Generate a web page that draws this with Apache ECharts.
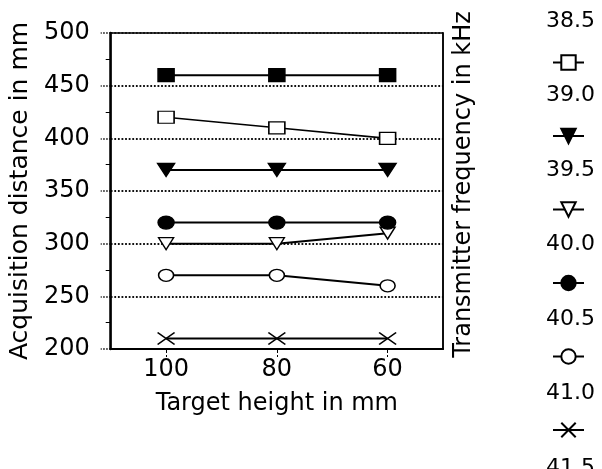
<!DOCTYPE html>
<html>
<head>
<meta charset="utf-8">
<script src="https://cdn.jsdelivr.net/npm/echarts@6/dist/echarts.min.js"></script>
<style>
  html, body { margin: 0; padding: 0; background: #fff; }
  #chart { width: 602px; height: 469px; }
</style>
</head>
<body>
<div id="chart"></div>
<script>
// Target heights (mm) along the x axis
const targetHeights = ['100', '80', '60'];

// Transmitter frequencies (kHz), one series each
const frequencies = ['38.5', '39.0', '39.5', '40.0', '40.5', '41.0', '41.5'];

// Acquisition distance (mm) per frequency, for target heights 100 / 80 / 60
const dist385 = [460, 460, 460];
const dist390 = [420, 410, 400];
const dist395 = [370, 370, 370];
const dist400 = [300, 300, 310];
const dist405 = [320, 320, 320];
const dist410 = [270, 270, 260];
const dist415 = [210, 210, 210];

const yTicks = [200, 250, 300, 350, 400, 450, 500];

const FONT = 'DejaVu Sans';
const DOWN_TRI = 'path://M0,0L12,0L6,10Z';
const CROSS = 'path://M0,0L16,11M16,0L0,11';

function makeSeries(name, data, symbol, size, filled) {
  return {
    name: name,
    type: 'line',
    data: data,
    symbol: symbol,
    symbolSize: size,
    showSymbol: true,
    lineStyle: { color: '#000', width: 2 },
    itemStyle: {
      color: filled ? '#000' : '#fff',
      borderColor: '#000',
      borderWidth: 1.4
    },
    emphasis: { disabled: true },
    z: 3
  };
}

const series = [
  makeSeries(frequencies[0], dist385, 'rect', [16, 13], true),
  makeSeries(frequencies[1], dist390, 'rect', [16, 12], false),
  makeSeries(frequencies[2], dist395, DOWN_TRI, [17, 13], true),
  makeSeries(frequencies[3], dist400, DOWN_TRI, [15, 12], false),
  makeSeries(frequencies[4], dist405, 'circle', [16, 13], true),
  makeSeries(frequencies[5], dist410, 'circle', [15, 12], false),
  makeSeries(frequencies[6], dist415, CROSS, [17, 12], false)
];
series[1].lineStyle.width = 1.6;
series[6].itemStyle.color = 'transparent';

const chart = echarts.init(document.getElementById('chart'), null, { renderer: 'canvas' });

chart.setOption({
  backgroundColor: '#fff',
  animation: false,
  textStyle: { fontFamily: FONT, color: '#000' },
  grid: {
    left: 110, right: 159, top: 33, bottom: 120,
    show: true,
    borderColor: '#000',
    borderWidth: 1.5,
    backgroundColor: 'transparent'
  },
  legend: [
    {
      // symbols column
      orient: 'vertical',
      left: 547,
      top: -25,
      height: 600,
      itemWidth: 31,
      itemHeight: 18,
      itemGap: 56.3,
      formatter: () => '',
      textStyle: { fontSize: 1 },
      selectedMode: false,
      data: frequencies
    },
    {
      // frequency labels column
      orient: 'vertical',
      left: 535,
      top: 4,
      height: 600,
      itemWidth: 0,
      itemHeight: 22,
      itemGap: 50.5,
      icon: 'rect',
      itemStyle: { opacity: 0 },
      lineStyle: { opacity: 0 },
      selectedMode: false,
      textStyle: { fontFamily: FONT, fontSize: 22, color: '#000', lineHeight: 22 },
      data: frequencies
    }
  ],
  xAxis: {
    type: 'category',
    data: targetHeights,
    boundaryGap: true,
    name: 'Target height in mm',
    nameLocation: 'middle',
    nameGap: 43,
    nameTextStyle: { fontFamily: FONT, fontSize: 24, color: '#000' },
    axisLine: { show: true, lineStyle: { color: '#000', width: 2 } },
    axisTick: {
      show: true, alignWithLabel: true, length: 8,
      lineStyle: { color: '#000', width: 1, type: 'dashed' }
    },
    axisLabel: { fontFamily: FONT, fontSize: 24, color: '#000', margin: 9 },
    splitLine: { show: false }
  },
  yAxis: [
    {
      type: 'value',
      min: yTicks[0],
      max: yTicks[yTicks.length - 1],
      interval: 50,
      name: 'Acquisition distance in mm',
      nameLocation: 'middle',
      nameGap: 72,
      nameTextStyle: { fontFamily: FONT, fontSize: 25, color: '#000' },
      axisLine: { show: true, lineStyle: { color: '#000', width: 2.5 } },
      axisTick: {
        show: true, length: 10,
        lineStyle: { color: '#000', width: 1.5, type: 'dotted' }
      },
      minorTick: {
        show: true, splitNumber: 2, length: 5,
        lineStyle: { color: '#000', width: 1 }
      },
      axisLabel: { fontFamily: FONT, fontSize: 24, color: '#000', margin: 21 },
      splitLine: {
        show: true,
        lineStyle: { color: '#111', width: 1.8, type: 'dotted' }
      }
    },
    {
      type: 'value',
      position: 'right',
      min: yTicks[0],
      max: yTicks[yTicks.length - 1],
      interval: 50,
      name: 'Transmitter frequency in kHz',
      nameLocation: 'middle',
      nameGap: 9,
      nameRotate: 90,
      nameTextStyle: {
        fontFamily: FONT, fontSize: 24, color: '#000',
        verticalAlign: 'top', padding: [0, 0, 0, 13]
      },
      axisLine: { show: true, lineStyle: { color: '#000', width: 1.5 } },
      axisTick: { show: false },
      axisLabel: { show: false },
      splitLine: { show: false }
    }
  ],
  series: series
});
</script>
</body>
</html>
